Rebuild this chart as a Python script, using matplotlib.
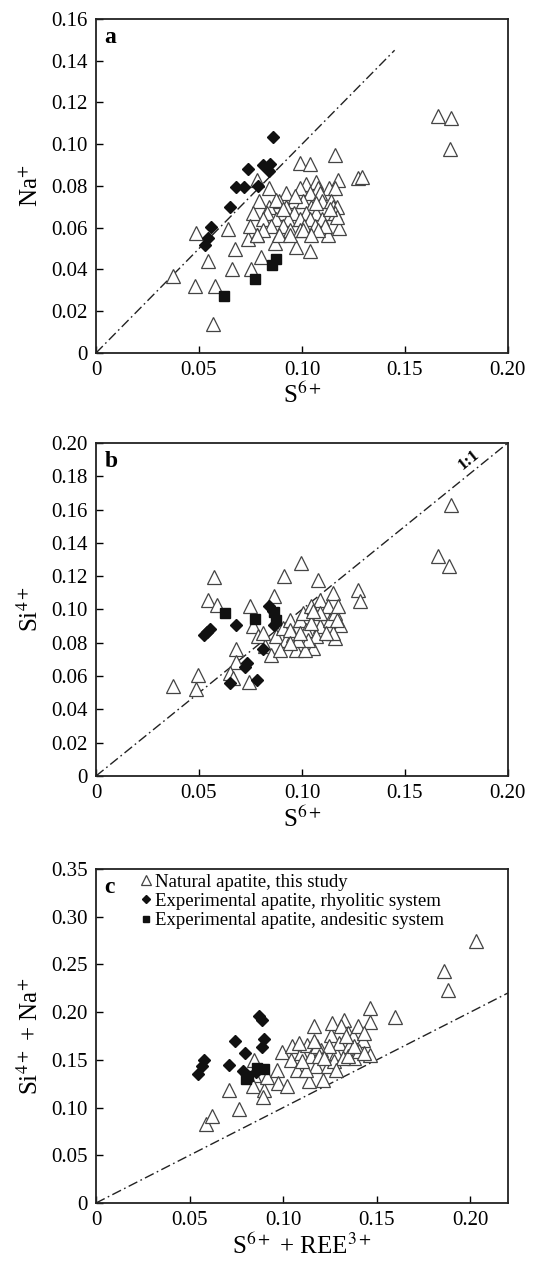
import matplotlib
matplotlib.use('Agg')
import matplotlib.pyplot as plt
import numpy as np

plt.rcParams['font.family'] = ['Liberation Serif', 'DejaVu Serif']
plt.rcParams['mathtext.fontset'] = 'stix'

# ---- panel a: S6+ vs Na+ ----
a_nat_x = [0.166, 0.1725, 0.1717, 0.127, 0.129, 0.0375, 0.0485, 0.048, 0.0545, 0.058, 0.057,
           0.064, 0.0674, 0.066, 0.0755, 0.080, 0.074, 0.078, 0.0868, 0.097, 0.104, 0.1127, 0.118,
           0.116, 0.099, 0.104, 0.078, 0.084, 0.1176,
           0.102, 0.107, 0.099, 0.108, 0.113, 0.116, 0.0925, 0.104, 0.109,
           0.079, 0.089, 0.096, 0.1006, 0.1095, 0.114, 0.084, 0.0925, 0.1046, 0.115, 0.117,
           0.0763, 0.083, 0.090, 0.096, 0.102, 0.107, 0.113, 0.116,
           0.081, 0.0876, 0.0933, 0.099, 0.104, 0.1095,
           0.0747, 0.0852, 0.0909, 0.1008, 0.1062, 0.111,
           0.081, 0.094, 0.099, 0.1006, 0.108, 0.078, 0.089, 0.094, 0.1046,
           0.0966, 0.107, 0.117, 0.1135, 0.0876, 0.091]
a_nat_y = [0.1136, 0.1125, 0.0976, 0.0837, 0.0845, 0.0368, 0.0576, 0.032, 0.044, 0.032, 0.014,
           0.0595, 0.0496, 0.040, 0.040, 0.046, 0.0547, 0.0565, 0.0525, 0.051, 0.049, 0.0565, 0.0597,
           0.0949, 0.0912, 0.0904, 0.083, 0.079, 0.083,
           0.081, 0.082, 0.079, 0.079, 0.079, 0.079, 0.0765, 0.0765, 0.0765,
           0.073, 0.073, 0.073, 0.073, 0.073, 0.073, 0.070, 0.070, 0.070, 0.070, 0.070,
           0.067, 0.067, 0.067, 0.067, 0.067, 0.067, 0.067, 0.067,
           0.064, 0.064, 0.064, 0.064, 0.064, 0.064,
           0.061, 0.061, 0.061, 0.061, 0.061, 0.061,
           0.059, 0.059, 0.059, 0.059, 0.059, 0.0565, 0.0565, 0.0565, 0.0565,
           0.075, 0.0717, 0.065, 0.069, 0.0733, 0.069]
a_rhy_x = [0.086, 0.0739, 0.081, 0.0847, 0.084, 0.0787, 0.068, 0.072, 0.065, 0.0556, 0.0545, 0.053]
a_rhy_y = [0.1034, 0.088, 0.0898, 0.0906, 0.087, 0.080, 0.0797, 0.0797, 0.070, 0.0605, 0.055, 0.0517]
a_and_x = [0.062, 0.077, 0.0857, 0.0876]
a_and_y = [0.0274, 0.0352, 0.042, 0.0448]

# ---- panel b: S6+ vs Si4+ ----
b_nat_x = [0.1725, 0.166, 0.1714, 0.1273, 0.1284, 0.0375, 0.0493, 0.0488, 0.0574, 0.0545, 0.0589,
           0.0994, 0.0913, 0.1078, 0.0679, 0.0682, 0.065, 0.0666, 0.0744, 0.0747, 0.0865,
           0.1151, 0.1087, 0.1184, 0.1159, 0.0973, 0.1054, 0.1014,
           0.0763, 0.0788, 0.082, 0.0812, 0.0852, 0.0876, 0.0909, 0.0925, 0.0941, 0.0957,
           0.0989, 0.1006, 0.1022, 0.1046, 0.1062, 0.1087, 0.1111, 0.1135, 0.1151, 0.1127,
           0.1159, 0.1168, 0.107, 0.103, 0.0981, 0.0941, 0.0892, 0.0989, 0.1087, 0.1046,
           0.1119, 0.1176, 0.1054, 0.0941]
b_nat_y = [0.163, 0.1319, 0.1259, 0.1118, 0.1048, 0.0541, 0.0607, 0.0521, 0.1194, 0.1058, 0.1024,
           0.1279, 0.1202, 0.1178, 0.0764, 0.0687, 0.0617, 0.0587, 0.0567, 0.1018, 0.1078,
           0.1098, 0.1058, 0.0908, 0.0828, 0.0758, 0.0768, 0.0758,
           0.0898, 0.0838, 0.0778, 0.0858, 0.0728, 0.0838, 0.0888, 0.0818, 0.0938, 0.0848,
           0.0938, 0.0978, 0.0878, 0.1018, 0.0938, 0.0898, 0.0978, 0.0938, 0.0858, 0.1018,
           0.0978, 0.0938, 0.0838, 0.0818, 0.0818, 0.0878, 0.0758, 0.0858, 0.0978, 0.0918,
           0.0858, 0.1018, 0.0988, 0.0798]
b_rhy_x = [0.0525, 0.054, 0.0555, 0.0679, 0.065, 0.0731, 0.0723, 0.0783, 0.0812, 0.084, 0.086, 0.0864]
b_rhy_y = [0.0845, 0.0862, 0.088, 0.0908, 0.0557, 0.068, 0.0657, 0.0577, 0.0762, 0.1018, 0.0988, 0.0908]
b_and_x = [0.0626, 0.0771, 0.0876, 0.0866]
b_and_y = [0.0978, 0.0944, 0.0938, 0.0985]

# ---- panel c: S6+ + REE3+ vs Si4+ + Na+ ----
c_nat_x = [0.203, 0.186, 0.188, 0.1595, 0.1466, 0.1466, 0.1466, 0.0586, 0.0622, 0.0765, 0.0708,
           0.0842, 0.0842, 0.0837, 0.0896, 0.0892, 0.0914, 0.0968, 0.0971, 0.1021, 0.1165,
           0.0995, 0.1048, 0.1039, 0.1075, 0.1093, 0.1129, 0.1147, 0.1138, 0.1174, 0.1201,
           0.121, 0.1237, 0.1254, 0.1263, 0.1281, 0.1299, 0.1326, 0.1344, 0.1353, 0.138,
           0.1371, 0.1398, 0.1425, 0.1407, 0.1434, 0.1183, 0.112, 0.1272, 0.1317, 0.1344,
           0.138, 0.1308, 0.1084, 0.1102, 0.1192, 0.1245, 0.1434, 0.1335, 0.1165, 0.1219, 0.1281]
c_nat_y = [0.2743, 0.2436, 0.223, 0.195, 0.2044, 0.1894, 0.1555, 0.0832, 0.0916, 0.0986, 0.1188,
           0.1503, 0.1345, 0.1223, 0.1181, 0.1111, 0.1321, 0.1398, 0.1258, 0.1223, 0.1852,
           0.158, 0.1642, 0.1503, 0.1398, 0.1572, 0.166, 0.1537, 0.1275, 0.1433, 0.1607,
           0.1293, 0.1433, 0.1765, 0.1887, 0.1572, 0.1677, 0.1922, 0.1782, 0.1642, 0.152,
           0.1747, 0.1852, 0.1712, 0.159, 0.1782, 0.1642, 0.1398, 0.1485, 0.152, 0.1537,
           0.1642, 0.1852, 0.1677, 0.1485, 0.1537, 0.1642, 0.1572, 0.1747, 0.1695, 0.152, 0.1398]
c_rhy_x = [0.0869, 0.0887, 0.074, 0.0896, 0.0884, 0.0797, 0.071, 0.0577, 0.0565, 0.0547, 0.0785, 0.0852]
c_rhy_y = [0.1957, 0.1922, 0.1695, 0.1723, 0.1635, 0.1572, 0.1443, 0.1495, 0.1433, 0.1352, 0.138, 0.1376]
c_and_x = [0.0803, 0.086, 0.0896, 0.081]
c_and_y = [0.130, 0.1415, 0.1405, 0.133]

panels = [
    dict(nat=(a_nat_x, a_nat_y), rhy=(a_rhy_x, a_rhy_y), and_=(a_and_x, a_and_y),
         xlim=0.20, ylim=0.16, yticks=np.arange(0, 0.161, 0.02), yfmt='%.2f',
         xticks=[0, 0.05, 0.10, 0.15, 0.20], line_end=0.145, letter='a',
         xlabel=r'S$^{6+}$', ylabel=r'Na$^{+}$', rect=[0.1755, 0.7203, 0.753, 0.2647]),
    dict(nat=(b_nat_x, b_nat_y), rhy=(b_rhy_x, b_rhy_y), and_=(b_and_x, b_and_y),
         xlim=0.20, ylim=0.20, yticks=np.arange(0, 0.201, 0.02), yfmt='%.2f',
         xticks=[0, 0.05, 0.10, 0.15, 0.20], line_end=0.20, letter='b',
         xlabel=r'S$^{6+}$', ylabel=r'Si$^{4+}$', rect=[0.1755, 0.3851, 0.753, 0.2639]),
    dict(nat=(c_nat_x, c_nat_y), rhy=(c_rhy_x, c_rhy_y), and_=(c_and_x, c_and_y),
         xlim=0.22, ylim=0.35, yticks=np.arange(0, 0.351, 0.05), yfmt='%.2f',
         xticks=[0, 0.05, 0.10, 0.15, 0.20], line_end=0.22, letter='c',
         xlabel=r'S$^{6+}$ + REE$^{3+}$', ylabel=r'Si$^{4+}$ + Na$^{+}$', rect=[0.1755, 0.04675, 0.753, 0.2647]),
]

fig = plt.figure(figsize=(5.47, 12.62), dpi=100)
dash = (0, (7, 2.5, 1.2, 2.5))

for p in panels:
    ax = fig.add_axes(p['rect'])
    ax.plot([0, p['line_end']], [0, p['line_end']], color='#222222', lw=1.0, linestyle=dash, zorder=1)
    ax.plot(p['nat'][0], p['nat'][1], linestyle='none', marker='^', ms=10, mfc='white',
            mec='#444444', mew=0.9, zorder=3, label='Natural apatite, this study')
    ax.plot(p['rhy'][0], p['rhy'][1], linestyle='none', marker='D', ms=6, color='#111111',
            zorder=4, label='Experimental apatite, rhyolitic system')
    ax.plot(p['and_'][0], p['and_'][1], linestyle='none', marker='s', ms=6.5, color='#111111',
            zorder=4, label='Experimental apatite, andesitic system')
    ax.set_xlim(0, p['xlim'])
    ax.set_ylim(0, p['ylim'])
    ax.set_xticks(p['xticks'])
    ax.set_xticklabels(['0'] + ['%.2f' % v for v in p['xticks'][1:]])
    ax.set_yticks(p['yticks'])
    ax.set_yticklabels(['0'] + [p['yfmt'] % v for v in p['yticks'][1:]])
    ax.tick_params(direction='in', length=5, width=1, labelsize=15, pad=6)
    for s in ax.spines.values():
        s.set_linewidth(1.3)
        s.set_color('#222222')
    ax.set_xlabel(p['xlabel'], fontsize=18, labelpad=2)
    ax.set_ylabel(p['ylabel'], fontsize=18, labelpad=6)
    ax.text(0.02, 0.975, p['letter'], transform=ax.transAxes, fontsize=17,
            fontweight='bold', va='top', ha='left')
    if p['letter'] == 'b':
        ax.text(0.181, 0.190, '1:1', fontsize=12, fontweight='bold', rotation=39,
                ha='center', va='center')
    if p['letter'] == 'c':
        ax.legend(loc='upper left', bbox_to_anchor=(0.08, 1.02), frameon=False,
                  fontsize=13.5, handlelength=0.6, handletextpad=0.2, labelspacing=0.12,
                  markerscale=0.7, borderaxespad=0.2)

fig.savefig('out.png', dpi=100)
